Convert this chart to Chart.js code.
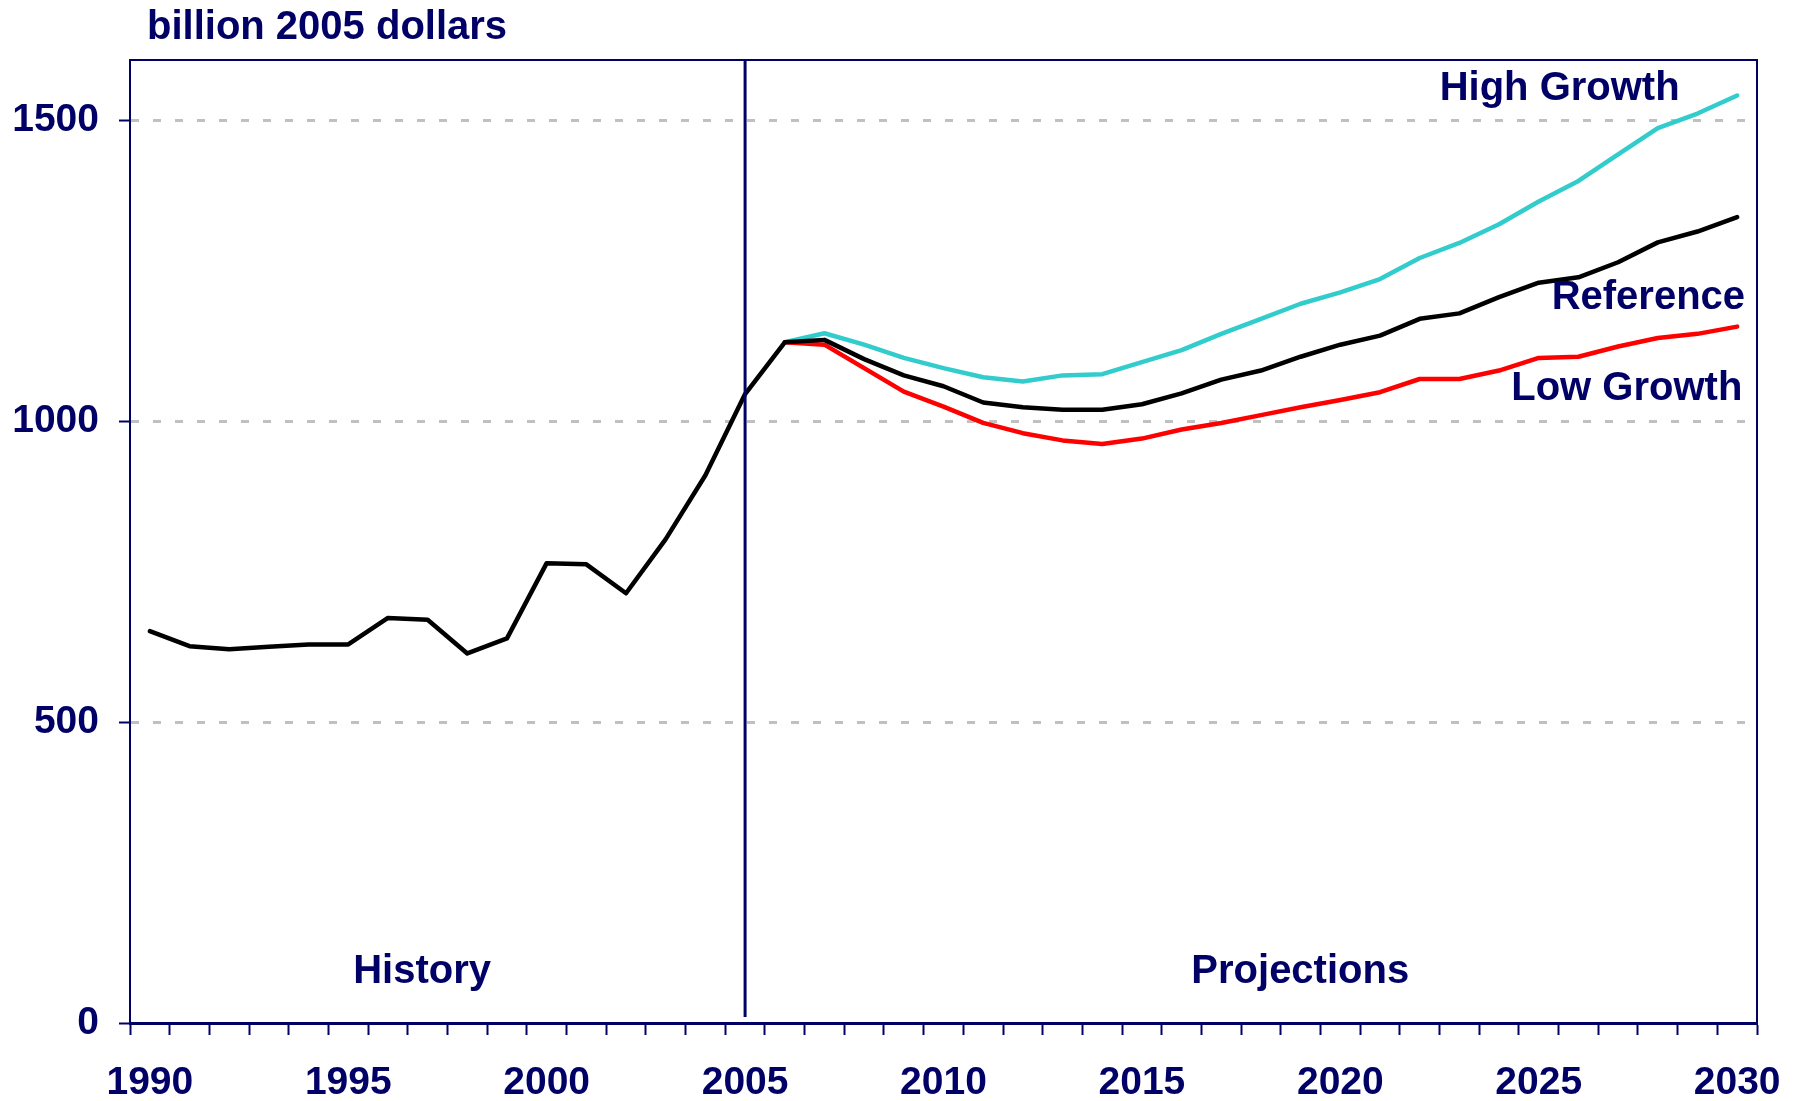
<!DOCTYPE html>
<html>
<head>
<meta charset="utf-8">
<script src="https://cdn.jsdelivr.net/npm/chart.js@4.4.0/dist/chart.umd.min.js"></script>
<style>
  body { margin: 0; background: #fff; }
  #wrap { width: 1797px; height: 1101px; }
</style>
</head>
<body>
<div id="wrap"><canvas id="myChart" width="1797" height="1101"></canvas></div>
<script>
const NAVY = '#000066';
const FONT = "'Liberation Sans', Arial, sans-serif";

const years = ['1990', '1991', '1992', '1993', '1994', '1995', '1996', '1997', '1998', '1999',
    '2000', '2001', '2002', '2003', '2004', '2005', '2006', '2007', '2008', '2009',
    '2010', '2011', '2012', '2013', '2014', '2015', '2016', '2017', '2018', '2019',
    '2020', '2021', '2022', '2023', '2024', '2025', '2026', '2027', '2028', '2029', '2030'];
const tickYears = ['1990', '1995', '2000', '2005', '2010', '2015', '2020', '2025', '2030'];
const yTicks = [0, 500, 1000, 1500];

// 1990-2005
const historyValues = [651, 626, 621, 625, 629, 629, 673, 670, 614, 639, 764, 762, 714, 804, 910, 1045];
// 2006-2030
const referenceValues = [1131, 1135, 1103, 1076, 1058, 1031, 1023, 1019, 1019, 1028, 1046, 1069, 1084,
    1107, 1127, 1142, 1170, 1179, 1206, 1230, 1239, 1264, 1297, 1315, 1339];
const highValues = [1131, 1146, 1127, 1105, 1088, 1073, 1066, 1076, 1078, 1098, 1118, 1145, 1170,
    1195, 1214, 1236, 1271, 1296, 1327, 1365, 1399, 1443, 1487, 1511, 1541];
const lowValues = [1131, 1127, 1088, 1049, 1024, 997, 980, 968, 962, 971, 986, 997, 1010,
    1023, 1035, 1048, 1070, 1070, 1084, 1105, 1107, 1124, 1138, 1145, 1157];

const pad = historyValues.map(() => null);

const textPlugin = {
    id: 'texts',
    afterDatasetsDraw(chart) {
        const { ctx, chartArea: a, scales: { x, y } } = chart;
        ctx.save();
        // box top/right
        ctx.strokeStyle = NAVY;
        ctx.lineWidth = 2;
        ctx.beginPath();
        ctx.moveTo(a.left, a.top);
        ctx.lineTo(a.right, a.top);
        ctx.lineTo(a.right, a.bottom);
        ctx.stroke();
        // history / projections divider at 2005
        const xd = x.getPixelForValue(years.indexOf('2005'));
        ctx.lineWidth = 3;
        ctx.beginPath();
        ctx.moveTo(xd, a.top);
        ctx.lineTo(xd, a.bottom - 6);
        ctx.stroke();

        ctx.fillStyle = NAVY;
        ctx.font = 'bold 40px ' + FONT;
        ctx.textBaseline = 'middle';
        ctx.textAlign = 'left';
        ctx.fillText('billion 2005 dollars', a.left + 17, a.top - 32);

        ctx.textAlign = 'right';
        ctx.fillText('High Growth', x.getPixelForValue(38.55), y.getPixelForValue(1552));
        ctx.fillText('Reference', x.getPixelForValue(40.2), y.getPixelForValue(1204));
        ctx.fillText('Low Growth', x.getPixelForValue(40.13), y.getPixelForValue(1054));
        ctx.textAlign = 'center';
        ctx.fillText('History', x.getPixelForValue(6.86), y.getPixelForValue(84));
        ctx.fillText('Projections', x.getPixelForValue(28.99), y.getPixelForValue(84));
        ctx.restore();
    }
};

const ctx = document.getElementById('myChart').getContext('2d');
new Chart(ctx, {
    type: 'line',
    data: {
        labels: years,
        datasets: [
            {
                label: 'Reference',
                data: historyValues.concat(referenceValues),
                borderColor: '#000000',
                borderWidth: 4.5
            },
            {
                label: 'Low Growth',
                data: pad.concat(lowValues),
                borderColor: '#ff0000',
                borderWidth: 4.5
            },
            {
                label: 'High Growth',
                data: pad.concat(highValues),
                borderColor: '#33cccc',
                borderWidth: 4.5
            }
        ]
    },
    options: {
        responsive: false,
        animation: false,
        events: [],
        elements: { point: { radius: 0 }, line: { tension: 0, borderJoinStyle: 'round', borderCapStyle: 'round' } },
        layout: { padding: { top: 60, right: 40, left: 0, bottom: 0 } },
        scales: {
            x: {
                offset: true,
                grid: { offset: true, drawOnChartArea: false, tickLength: 12, tickColor: NAVY, tickWidth: 2, color: NAVY },
                border: { color: NAVY, width: 3 },
                ticks: {
                    autoSkip: false,
                    maxRotation: 0,
                    padding: 25,
                    color: NAVY,
                    font: { family: FONT, size: 39, weight: 'bold' },
                    callback: function (v) {
                        const lab = this.getLabelForValue(v);
                        return tickYears.includes(lab) ? lab : '';
                    }
                },
                afterFit: s => {
                    s.height = 78;
                    s.paddingLeft = 0;
                    s.paddingRight = 0;
                }
            },
            y: {
                min: 0,
                max: 1600,
                afterBuildTicks: s => { s.ticks = yTicks.map(v => ({ value: v })); },
                grid: {
                    color: c => (c.tick && c.tick.value === 0 ? 'rgba(0,0,0,0)' : '#c0c0c0'),
                    lineWidth: 3,
                    tickLength: 11,
                    tickColor: NAVY,
                    tickWidth: 2
                },
                border: { color: NAVY, width: 2, dash: [8, 14] },
                ticks: {
                    padding: 20,
                    color: NAVY,
                    font: { family: FONT, size: 39, weight: 'bold' },
                    callback: v => String(v)
                },
                afterFit: s => { s.width = 130; }
            }
        },
        plugins: { legend: { display: false }, tooltip: { enabled: false } }
    },
    plugins: [textPlugin]
});
</script>
</body>
</html>
